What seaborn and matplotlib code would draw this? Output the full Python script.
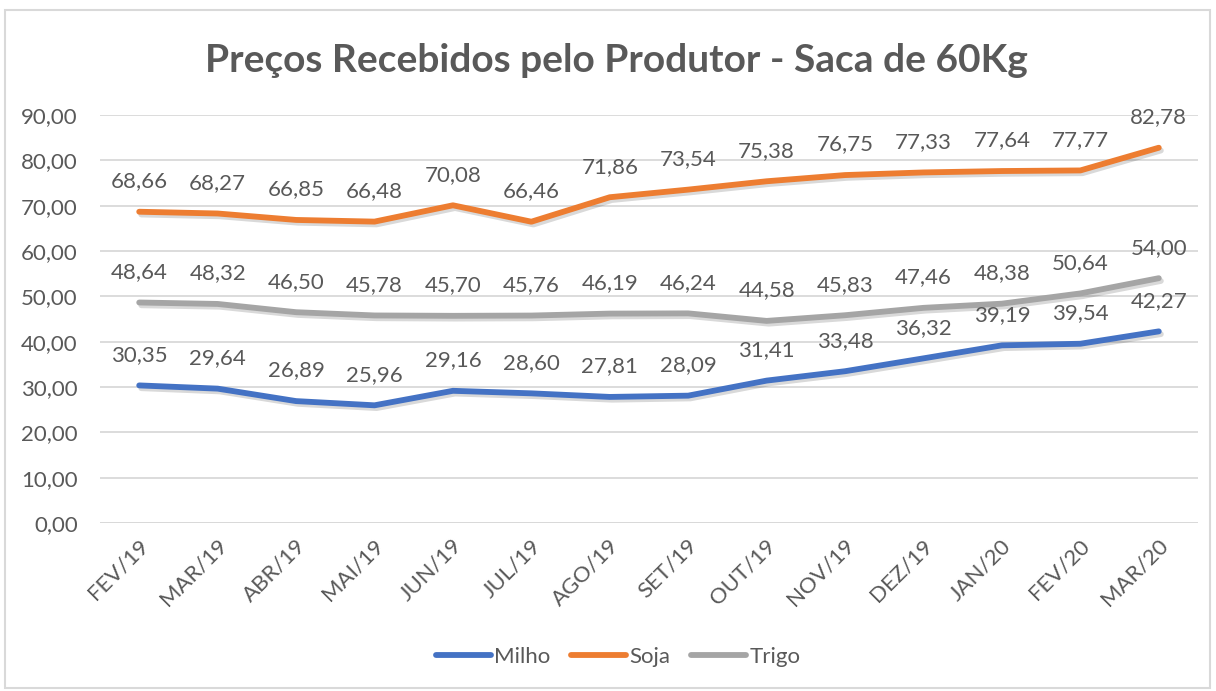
import matplotlib
matplotlib.use("Agg")
import matplotlib.pyplot as plt
import matplotlib.patheffects as pe
import matplotlib.transforms as mtransforms
from matplotlib.patches import Rectangle
from matplotlib.lines import Line2D
import seaborn as sns
import pandas as pd

meses = ["FEV/19", "MAR/19", "ABR/19", "MAI/19", "JUN/19", "JUL/19", "AGO/19",
         "SET/19", "OUT/19", "NOV/19", "DEZ/19", "JAN/20", "FEV/20", "MAR/20"]
milho = [30.35, 29.64, 26.89, 25.96, 29.16, 28.60, 27.81, 28.09, 31.41, 33.48, 36.32, 39.19, 39.54, 42.27]
soja = [68.66, 68.27, 66.85, 66.48, 70.08, 66.46, 71.86, 73.54, 75.38, 76.75, 77.33, 77.64, 77.77, 82.78]
trigo = [48.64, 48.32, 46.50, 45.78, 45.70, 45.76, 46.19, 46.24, 44.58, 45.83, 47.46, 48.38, 50.64, 54.00]
series = {"Milho": milho, "Soja": soja, "Trigo": trigo}
cores = {"Milho": "#4472C4", "Soja": "#ED7D31", "Trigo": "#A5A5A5"}
yticks = [0, 10, 20, 30, 40, 50, 60, 70, 80, 90]
titulo = "Preços Recebidos pelo Produtor - Saca de 60Kg"

rows = []
for nome, vals in series.items():
    for i, (m, v) in enumerate(zip(meses, vals)):
        rows.append({"idx": i, "mes": m, "valor": v, "serie": nome})
df = pd.DataFrame(rows)

sns.set_theme(style="white")
plt.rcParams["font.family"] = ["Lato", "DejaVu Sans"]
txt = "#595959"
fs = 16

fig = plt.figure(figsize=(12.16, 6.91), dpi=100)
fig.patches.append(Rectangle((5 / 1216, 3 / 691), 1205 / 1216, 678 / 691,
                             transform=fig.transFigure, fill=False,
                             edgecolor="#D9D9D9", linewidth=1.5))
ax = fig.add_axes([100 / 1216, 1 - 523 / 691, 1098 / 1216, 408 / 691])

shadow = [pe.SimpleLineShadow(offset=(1.5, -2), shadow_color="black", alpha=0.15), pe.Normal()]
sns.lineplot(data=df, x="idx", y="valor", hue="serie", palette=cores, ax=ax,
             linewidth=4.2, legend=False, solid_capstyle="round",
             path_effects=shadow)

for nome, vals in series.items():
    for i, v in enumerate(vals):
        ax.annotate(f"{v:.2f}".replace(".", ","), (i, v), xytext=(0, 22),
                    textcoords="offset points", ha="center", va="center",
                    fontsize=fs, color=txt)

ax.set_xlim(-0.5, len(meses) - 0.5)
ax.set_ylim(0, 90)
ax.set_yticks(yticks)
ax.set_yticklabels([f"{t:.2f}".replace(".", ",") for t in yticks], fontsize=fs, color=txt)
ax.set_xticks(range(len(meses)))
ax.set_xticklabels(meses, rotation=45, ha="right", va="center", rotation_mode="anchor",
                   fontsize=fs, color=txt)
ax.tick_params(axis="x", length=0, pad=14)
ax.tick_params(axis="y", length=0, pad=16)
shift = mtransforms.ScaledTranslation(6 / 100, 0, fig.dpi_scale_trans)
for lab in ax.get_xticklabels():
    lab.set_transform(lab.get_transform() + shift)
ax.set_xlabel("")
ax.set_ylabel("")
ax.grid(axis="y", color="#D9D9D9", linewidth=1.3)
for s in ax.spines.values():
    s.set_visible(False)
ax.axhline(0, color="#D9D9D9", linewidth=1.3)

fig.text(616 / 1216, 1 - 60 / 691, titulo, ha="center", va="center",
         fontsize=28, fontweight="bold", color=txt)

handles = [Line2D([], [], color=cores[n], linewidth=4.2, solid_capstyle="round") for n in series]
leg = fig.legend(handles, list(series.keys()), loc="center", bbox_to_anchor=(618 / 1216, 1 - 657 / 691),
                 ncol=3, frameon=False, fontsize=fs, handlelength=2.5, handletextpad=0.15,
                 columnspacing=0.9)
for t in leg.get_texts():
    t.set_color(txt)

fig.savefig("out.png", dpi=100)
